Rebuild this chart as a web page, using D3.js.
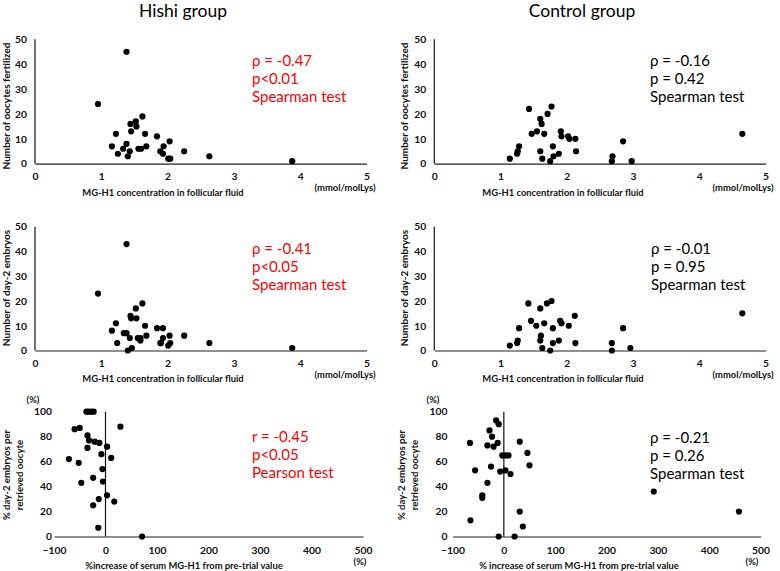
<!DOCTYPE html>
<html><head><meta charset="utf-8">
<script src="https://cdn.jsdelivr.net/npm/d3@7"></script>
<style>body{margin:0;background:#fff} svg{display:block} text{font-family:Lato,"Open Sans",sans-serif}</style>
</head><body><svg id="c" width="780" height="571"></svg>
<script>
// ---- tick labels ----
const mgTicks = [0, 1, 2, 3, 4, 5];
const countTicks = [0, 10, 20, 30, 40, 50];
const pctXTicks = [-100, 0, 100, 200, 300, 400, 500];
const pctYTicks = [0, 20, 40, 60, 80, 100];

// ---- titles / labels ----
const groupTitles = ["Hishi group", "Control group"];
const statsHishiFert = ["\u03c1 = -0.47", "p<0.01", "Spearman test"];
const statsCtrlFert = ["\u03c1 = -0.16", "p = 0.42", "Spearman test"];
const statsHishiEmb = ["\u03c1 = -0.41", "p<0.05", "Spearman test"];
const statsCtrlEmb = ["\u03c1 = -0.01", "p = 0.95", "Spearman test"];
const statsHishiPct = ["r = -0.45", "p<0.05", "Pearson test"];
const statsCtrlPct = ["\u03c1 = -0.21", "p = 0.26", "Spearman test"];

// ---- data: Hishi, oocytes fertilized vs MG-H1 (FF) ----
const hishiFertX = [1.38,0.95,1.62,1.52,1.44,1.53,1.45,1.22,1.66,1.84,2.03,1.16,1.38,1.68,1.94,1.33,1.43,1.56,1.60,1.25,1.40,1.89,1.93,2.01,2.04,2.25,2.63,3.88];
const hishiFertY = [45,24,19,17,16,15,13,12,12,11,9,7,8,7,7,6,5,6,6,4,3,5,4,2,2,5,3,1];
// ---- Control, oocytes fertilized ----
const ctrlFertX = [1.14,1.25,1.26,1.28,1.43,1.47,1.55,1.60,1.62,1.66,1.71,1.77,1.60,1.63,1.79,1.80,1.75,1.88,1.91,1.92,2.02,2.04,2.13,2.14,2.69,2.68,2.85,2.98,4.65];
const ctrlFertY = [2,4,5,7,22,12,13,18,16,12,20,23,5,2,7,3,1,4,13,11,11,10,10,5,3,1,9,1,12];
// ---- Hishi, day-2 embryos ----
const hishiEmbX = [1.38,0.95,1.62,1.52,1.44,1.45,1.53,1.22,1.66,1.84,1.93,1.16,1.34,1.38,1.43,1.55,1.59,1.68,1.93,2.03,2.25,1.24,1.40,1.46,1.59,1.89,1.90,2.01,2.04,2.63,3.88];
const hishiEmbY = [43,23,19,17,14,13,13,11,10,9,9,8,7,7,5,5,5,6,5,6,6,3,0,1,4,3,3,2,3,3,1];
// ---- Control, day-2 embryos ----
const ctrlEmbX = [1.42,1.60,1.70,1.77,1.46,1.54,1.66,1.28,1.79,1.90,1.92,2.03,2.12,2.85,4.65,1.61,1.60,1.88,1.14,1.25,1.26,1.63,1.75,1.79,2.13,2.68,2.68,2.96];
const ctrlEmbY = [19,17,19,20,12,10,11,9,9,12,11,10,14,9,15,6,4,4,2,3,4,1,0,3,3,3,0,1];
// ---- Hishi, % day-2 embryos vs % increase serum MG-H1 ----
const hishiPctX = [-37,-33,-28,-23,-60,-50,29,-35,-32,-21,-12,-35,3,-8,11,-71,-52,-6,-24,-5,-47,3,-13,17,-24,-14,71];
const hishiPctY = [100,100,100,100,86,87,88,81,77,76,75,71,72,66,63,62,59,54,47,44,43,33,30,28,25,7,0];
// ---- Control, % day-2 embryos ----
const ctrlPctX = [-15,-10,-28,-23,-32,-20,-12,31,-3,3,9,46,50,-25,-7,3,13,-32,-42,-42,31,37,-10,21,-66,-56,-65,292,458];
const ctrlPctY = [93,90,85,80,73,72,75,76,65,65,65,67,57,56,52,53,50,43,33,31,20,8,0,0,75,53,13,36,20];

const svg = d3.select("#c");
const TICK_FONT = 10.3, AX_FONT = 9.4, YT_FONT = 10;

function panel(cfg) {
  const x = d3.scaleLinear().domain(cfg.xd).range(cfg.xr);
  const y = d3.scaleLinear().domain(cfg.yd).range(cfg.yr);
  const g = svg.append("g");

  const xa = g.append("g").attr("transform", `translate(0,${y(0)})`)
    .call(d3.axisBottom(x).tickValues(cfg.xt).tickSize(0).tickPadding(cfg.xpad).tickFormat(d3.format("d")));
  xa.select(".domain").attr("stroke", "#222").attr("stroke-width", 1.2);
  xa.selectAll("text").attr("font-size", TICK_FONT).attr("font-weight", 700).attr("fill", "#111");

  const ya = g.append("g").attr("transform", `translate(${x(cfg.ylabAt)},0)`)
    .call(d3.axisLeft(y).tickValues(cfg.yt).tickSize(0).tickPadding(cfg.ypad).tickFormat(d3.format("d")));
  ya.select(".domain").remove();
  ya.selectAll("text").attr("font-size", TICK_FONT).attr("font-weight", 700).attr("fill", "#111");

  g.append("line").attr("x1", x(0)).attr("x2", x(0)).attr("y1", y(cfg.yd[0])).attr("y2", y(cfg.yd[1]))
    .attr("stroke", "#111").attr("stroke-width", 1.2);

  g.append("g").selectAll("circle").data(cfg.xs.map((v, i) => [v, cfg.ys[i]])).join("circle")
    .attr("cx", d => x(d[0])).attr("cy", d => y(d[1])).attr("r", 3.1).attr("fill", "#000");

  g.append("g").selectAll("text").data(cfg.stats).join("text")
    .attr("x", cfg.sx).attr("y", (d, i) => cfg.sy + i * 18.2)
    .attr("font-size", 15).attr("fill", cfg.scol).text(d => d);
  return {x, y, g};
}

function txt(x, y, s, opts = {}) {
  const t = svg.append("text").attr("x", x).attr("y", y).text(s)
    .attr("font-size", opts.size || AX_FONT).attr("font-weight", opts.weight || 700)
    .attr("fill", opts.fill || "#111").attr("text-anchor", opts.anchor || "middle");
  if (opts.rot) t.attr("transform", `rotate(-90,${x},${y})`);
  return t;
}

txt(183, 17, groupTitles[0], {size: 17.5, weight: 400, fill: "#000"});
txt(582, 17, groupTitles[1], {size: 17.5, weight: 400, fill: "#000"});

const colX = [[35, 366.5], [434.3, 765.5]];
const red = "#ff0000";

panel({xd: [0, 5], xr: colX[0], yd: [0, 50], yr: [163.7, 39.3], xt: mgTicks, yt: countTicks, xpad: 9, ypad: 8, ylabAt: 0,
  xs: hishiFertX, ys: hishiFertY, stats: statsHishiFert, sx: 252, sy: 66, scol: red});
panel({xd: [0, 5], xr: colX[1], yd: [0, 50], yr: [163.7, 39.3], xt: mgTicks, yt: countTicks, xpad: 9, ypad: 8, ylabAt: 0,
  xs: ctrlFertX, ys: ctrlFertY, stats: statsCtrlFert, sx: 650, sy: 66, scol: "#000"});
panel({xd: [0, 5], xr: colX[0], yd: [0, 50], yr: [350.5, 226.7], xt: mgTicks, yt: countTicks, xpad: 9, ypad: 8, ylabAt: 0,
  xs: hishiEmbX, ys: hishiEmbY, stats: statsHishiEmb, sx: 252, sy: 254, scol: red});
panel({xd: [0, 5], xr: colX[1], yd: [0, 50], yr: [350.5, 226.7], xt: mgTicks, yt: countTicks, xpad: 9, ypad: 8, ylabAt: 0,
  xs: ctrlEmbX, ys: ctrlEmbY, stats: statsCtrlEmb, sx: 651, sy: 254, scol: "#000"});
panel({xd: [-100, 500], xr: [54, 363], yd: [0, 100], yr: [536.5, 411.7], xt: pctXTicks, yt: pctYTicks, xpad: 10, ypad: 2, ylabAt: -100,
  xs: hishiPctX, ys: hishiPctY, stats: statsHishiPct, sx: 252, sy: 441.5, scol: red});
panel({xd: [-100, 500], xr: [452.5, 760.5], yd: [0, 100], yr: [536.5, 411.7], xt: pctXTicks, yt: pctYTicks, xpad: 10, ypad: 5, ylabAt: -100,
  xs: ctrlPctX, ys: ctrlPctY, stats: statsCtrlPct, sx: 650, sy: 443, scol: "#000"});

txt(163, 196, "MG-H1 concentration in follicular fluid");
txt(563, 196, "MG-H1 concentration in follicular fluid");
txt(345, 191, "(mmol/molLys)");
txt(743, 191, "(mmol/molLys)");
txt(163, 382, "MG-H1 concentration in follicular fluid");
txt(563, 382, "MG-H1 concentration in follicular fluid");
txt(345, 378, "(mmol/molLys)");
txt(743, 378, "(mmol/molLys)");
txt(184, 569, "%increase of serum MG-H1 from pre-trial value");
txt(579, 569, "% increase of serum MG-H1 from pre-trial value");
txt(360, 565, "(%)");
txt(752, 565, "(%)");
txt(33, 403, "(%)");
txt(433, 403, "(%)");

txt(9.5, 106, "Number of oocytes fertilized", {rot: true, size: YT_FONT});
txt(408, 106, "Number of oocytes fertilized", {rot: true, size: YT_FONT});
txt(9.5, 288, "Number of day-2 embryos", {rot: true, size: YT_FONT});
txt(408, 288, "Number of day-2 embryos", {rot: true, size: YT_FONT});
txt(10, 475, "% day-2 embryos per", {rot: true, size: 9.6});
txt(22.5, 475, "retrieved oocyte", {rot: true, size: 9.6});
txt(405, 475, "% day-2 embryos per", {rot: true, size: 9.6});
txt(418, 475, "retrieved oocyte", {rot: true, size: 9.6});
</script></body></html>
